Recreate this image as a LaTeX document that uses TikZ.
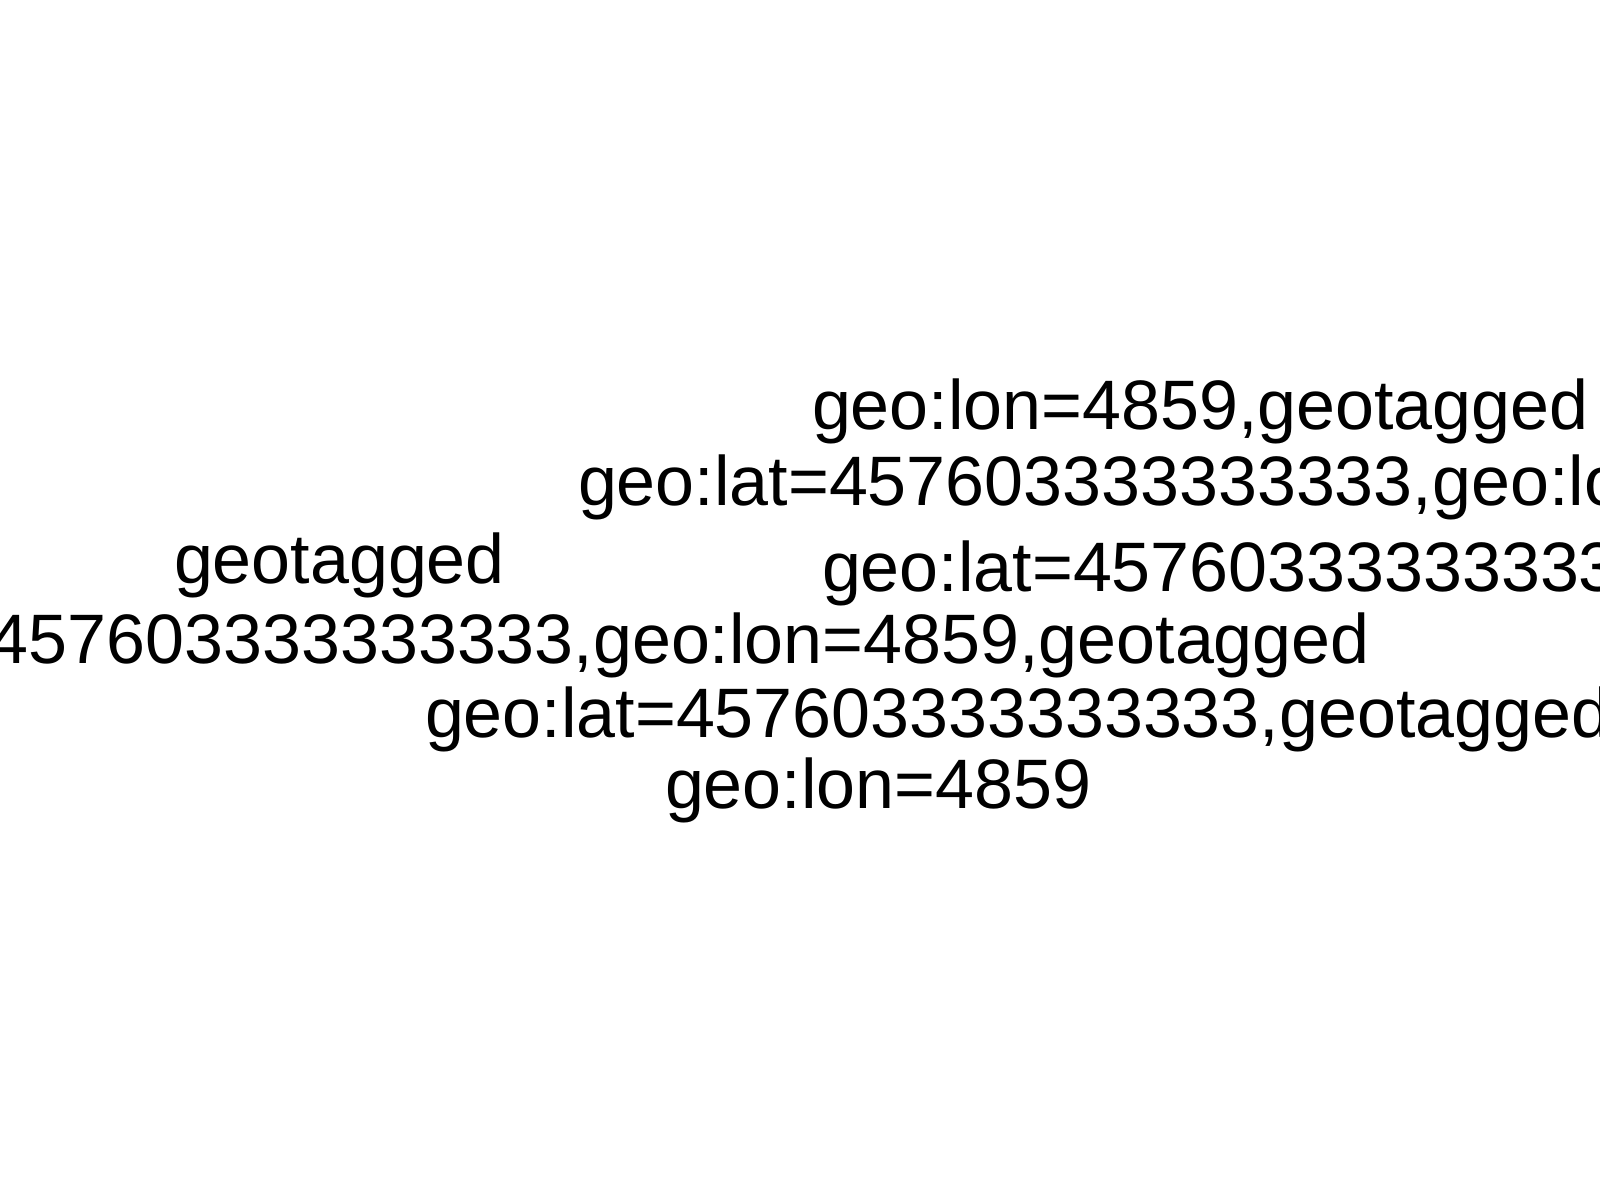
\documentclass[tikz,border=0pt]{standalone}
\usepackage{fontspec}
\setmainfont{Liberation Sans}
\begin{document}
\begin{tikzpicture}[x=0.5pt,y=-0.5pt,
  lbl/.style={inner sep=0pt,outer sep=0pt,anchor=base west,font=\fontsize{35}{40}\selectfont}]
\useasboundingbox (0,0) rectangle (1600,1200);
\fill[white] (0,0) rectangle (1600,1200);
\begin{scope}
\clip (0,0) rectangle (1600,1200);
\node[lbl] (l1) at (812,429) {geo:lon=4859,geotagged};
\node[lbl] (l2) at (578,505) {geo:lat=457603333333333,geo:lon=4859};
\node[lbl] (l3) at (174,583) {geotagged};
\node[lbl] (l4) at (822,591) {geo:lat=457603333333333};
\node[lbl,anchor=base east] (l5) at (1370,663) {geo:lat=457603333333333,geo:lon=4859,geotagged};
\node[lbl] (l6) at (425,737) {geo:lat=457603333333333,geotagged};
\node[lbl] (l7) at (665,808) {geo:lon=4859};
\end{scope}
\end{tikzpicture}
\end{document}
